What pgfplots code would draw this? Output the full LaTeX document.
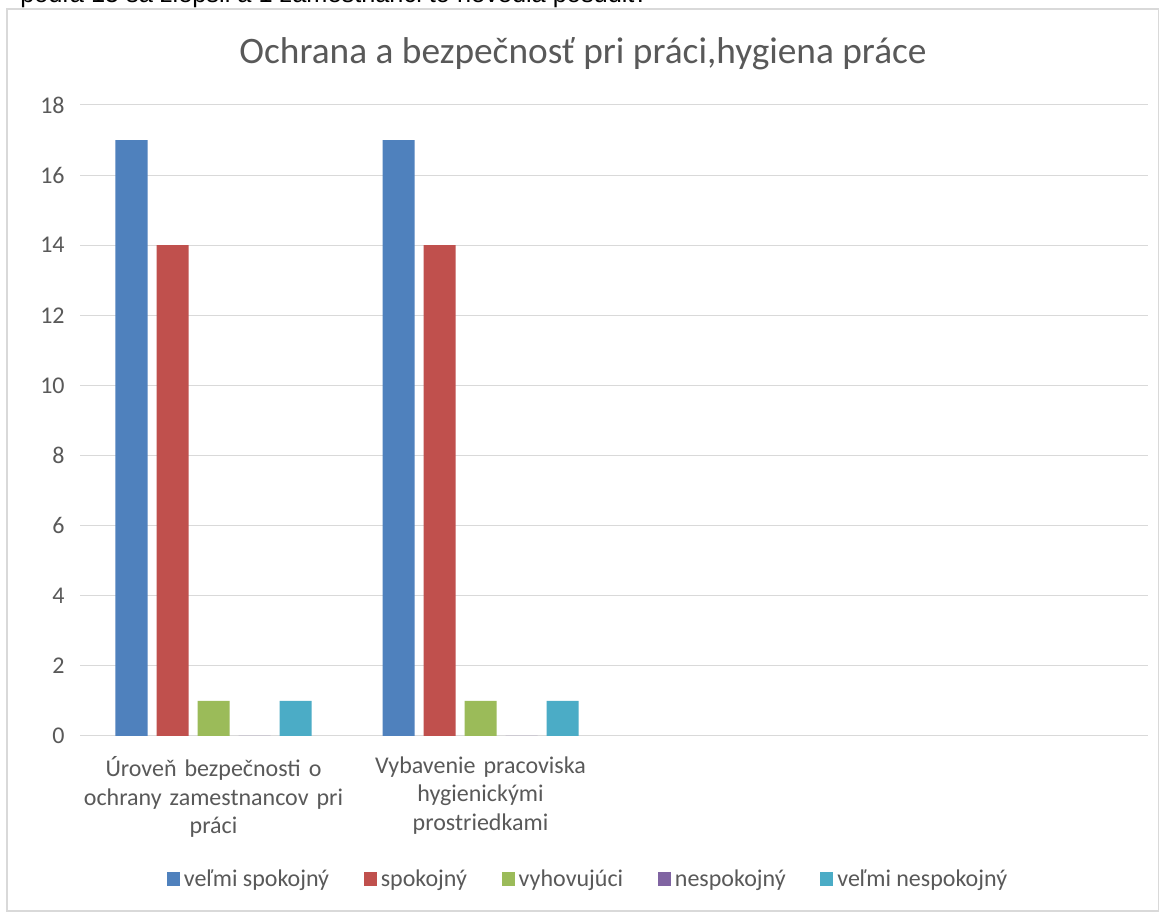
\documentclass[border=0pt]{standalone}
\usepackage{pgfplots}
\pgfplotsset{compat=1.18}
\usepackage{fontspec}
\setmainfont{Carlito}
\newfontfamily\arialfont{Liberation Sans}
\definecolor{c1}{HTML}{4F81BD}
\definecolor{c2}{HTML}{C0504D}
\definecolor{c3}{HTML}{9BBB59}
\definecolor{c4}{HTML}{8064A2}
\definecolor{c5}{HTML}{4BACC6}
\definecolor{gridc}{HTML}{D9D9D9}
\definecolor{txt}{HTML}{595959}
\begin{document}
\begin{tikzpicture}
\useasboundingbox (0pt,0pt) rectangle (870pt,684pt);
\clip (0pt,0pt) rectangle (870pt,684pt);
\fill[white] (0pt,0pt) rectangle (870pt,684pt);
\node[anchor=base west, font=\arialfont\fontsize{19}{22}\selectfont, inner sep=0] at (15pt,682pt) {podľa 15 sa zlepšil a 1 zamestnanci to nevedia posúdiť.};
\draw[gridc, line width=1.2pt] (5.25pt,677.25pt) rectangle (868.9pt,0.75pt);
\node[anchor=base, font=\fontsize{28}{33}\selectfont, text=txt, inner sep=0] at (437.25pt,636pt) {Ochrana a bezpečnosť pri práci,hygiena práce};
\begin{axis}[
  at={(60pt,132pt)}, anchor=south west,
  width=801pt, height=473.25pt, scale only axis,
  xmin=-0.5, xmax=3.5, ymin=0, ymax=18,
  ytick={0,2,...,18},
  xtick={0,1,2,3},
  xticklabels={{Úroveň bezpečnosti o\\ochrany zamestnancov pri\\práci},{Vybavenie pracoviska\\hygienickými\\prostriedkami},{},{}},
  ybar, bar width=24pt,
  ymajorgrids, grid style={gridc, line width=0.75pt},
  x axis line style={gridc, line width=0.75pt},
  y axis line style={draw=none},
  major tick length=0pt,
  /pgf/number format/assume math mode=true,
  tick label style={font=\fontsize{18}{21.4}\selectfont, text=txt},
  yticklabel style={xshift=-8pt},
  xticklabel style={align=center, text width=200pt, yshift=-12pt},
  legend columns=-1,
  legend image code/.code={\fill[#1] (0pt,-4.9pt) rectangle (9.8pt,4.9pt);},
  legend style={at={(axis description cs:0.5,0)}, anchor=center, yshift=-107.25pt, xshift=-18.75pt,
    draw=none, fill=none, font=\fontsize{18}{21.4}\selectfont, text=txt,
    nodes={inner xsep=3pt},
    /tikz/every even column/.append style={column sep=23pt},
    /tikz/every odd column/.append style={column sep=0pt}},
]
\addplot[fill=c1, draw=none, bar shift=-61.5pt] coordinates {(0,17) (1,17)};
\addplot[fill=c2, draw=none, bar shift=-30.75pt] coordinates {(0,14) (1,14)};
\addplot[fill=c3, draw=none, bar shift=0pt] coordinates {(0,1) (1,1)};
\addplot[fill=c4, draw=none, bar shift=30.75pt] coordinates {(0,0) (1,0)};
\addplot[fill=c5, draw=none, bar shift=61.5pt] coordinates {(0,1) (1,1)};
\legend{veľmi spokojný,spokojný,vyhovujúci,nespokojný,veľmi nespokojný}
\end{axis}
\end{tikzpicture}
\end{document}
